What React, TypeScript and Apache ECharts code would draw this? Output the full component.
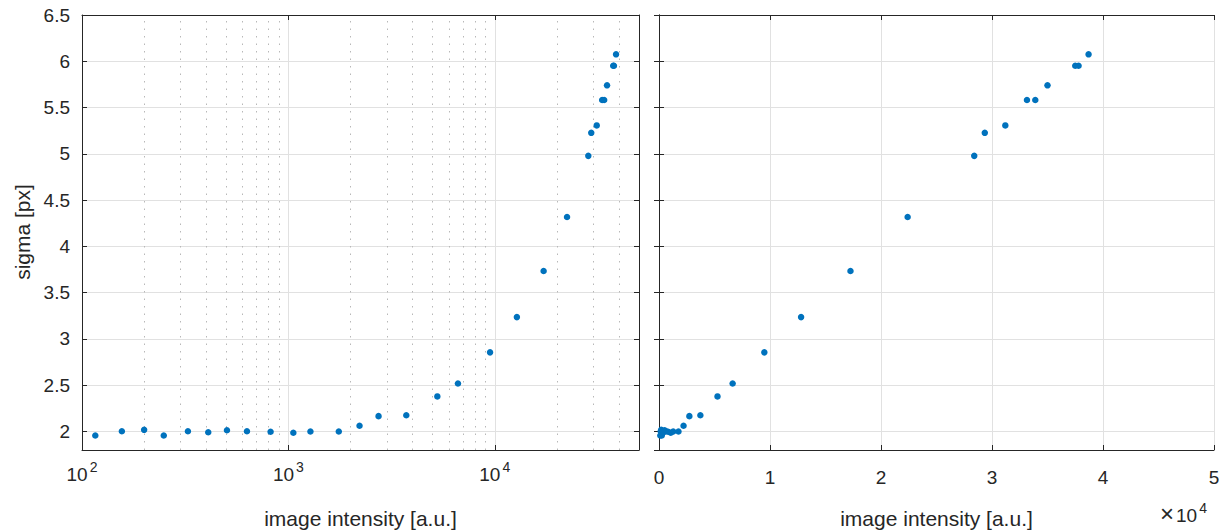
import React, { useEffect, useRef } from "react";
import * as echarts from "echarts";

// image intensity [a.u.]
const intensity: number[] = [
  116, 156, 200, 249, 326, 409, 504, 630, 820, 1057, 1279, 1755, 2212, 2735,
  3727, 5270, 6633, 9490, 12800, 17250, 22400, 28400, 29350, 31200, 33150,
  33900, 35000, 37500, 37800, 38700,
];
// sigma [px]
const sigma: number[] = [
  1.957, 2.003, 2.018, 1.957, 2.003, 1.992, 2.014, 2.003, 1.997, 1.986, 2.0,
  2.0, 2.062, 2.166, 2.176, 2.379, 2.519, 2.855, 3.236, 3.734, 4.318, 4.978,
  5.227, 5.307, 5.581, 5.581, 5.74, 5.952, 5.952, 6.075,
];
const minorLogTicks: number[] = [
  200, 300, 400, 500, 600, 700, 800, 900, 2000, 3000, 4000, 5000, 6000, 7000,
  8000, 9000, 20000, 30000, 40000,
];
const xLabel = "image intensity [a.u.]";
const yLabel = "sigma [px]";

const FONT = '"Liberation Sans", Arial, Helvetica, sans-serif';
const TXT = "#262626";
const GRID = "#e1e1e1";
const DOT = "#0072BD";

export default function App() {
  const ref = useRef<HTMLDivElement>(null);
  useEffect(() => {
    if (!ref.current) return;
    const chart = echarts.init(ref.current, null, { renderer: "svg" });
    const pts = intensity.map((x, i) => [x, sigma[i]]);

    const axisLine = { show: true, lineStyle: { color: TXT, width: 1 } };
    const tick = { show: true, inside: true, length: 5, lineStyle: { color: TXT } };
    const logFmt = (v: number) => {
      const e = Math.log10(v);
      if (Math.abs(e - Math.round(e)) < 1e-6) return `{b|10}{s|${Math.round(e)}}`;
      return "";
    };
    const richLog = {
      b: { fontSize: 19, fontFamily: FONT, color: TXT, verticalAlign: "bottom", lineHeight: 19 },
      s: { fontSize: 14, fontFamily: FONT, color: TXT, verticalAlign: "bottom", lineHeight: 14, padding: [0, 0, 10, 2] },
    };
    const yFmt = (v: number) => {
      const r = Math.round(v * 2) / 2;
      return Math.abs(r - v) < 1e-6 ? String(parseFloat(v.toFixed(2))) : "";
    };
    const grids = [
      { left: 82, top: 15, width: 557, height: 435 },
      { left: 659, top: 15, width: 555, height: 435 },
    ];

    chart.setOption({
      animation: false,
      backgroundColor: "#ffffff",
      grid: grids,
      xAxis: [
        {
          type: "log", logBase: 10, gridIndex: 0, min: 100, max: 50000, position: "bottom",
          axisLine, axisTick: tick,
          axisLabel: { formatter: logFmt, rich: richLog, margin: 15, showMinLabel: true, showMaxLabel: true },
          splitLine: { show: true, lineStyle: { color: GRID, width: 1 } },
          minorTick: { show: false }, minorSplitLine: { show: false },
        },
        {
          type: "value", gridIndex: 1, min: 0, max: 50000, interval: 10000, position: "bottom",
          axisLine, axisTick: tick,
          axisLabel: { formatter: (v: number) => String(v / 10000), fontSize: 19, fontFamily: FONT, color: TXT, margin: 18 },
          splitLine: { show: true, lineStyle: { color: GRID, width: 1 } },
        },
        {
          type: "log", logBase: 10, gridIndex: 0, min: 100, max: 50000, position: "top",
          axisLine, axisTick: tick, axisLabel: { show: false }, splitLine: { show: false },
        },
        {
          type: "value", gridIndex: 1, min: 0, max: 50000, interval: 10000, position: "top",
          axisLine, axisTick: tick, axisLabel: { show: false }, splitLine: { show: false },
        },
      ],
      yAxis: [
        {
          type: "value", gridIndex: 0, min: 1.8, max: 6.5, splitNumber: 10, position: "left",
          axisLine, axisTick: tick,
          axisLabel: { formatter: yFmt, fontSize: 19, fontFamily: FONT, color: TXT, margin: 12 },
          splitLine: { show: true, lineStyle: { color: GRID, width: 1 } },
        },
        {
          type: "value", gridIndex: 1, min: 1.8, max: 6.5, splitNumber: 10, position: "left",
          axisLine, axisTick: tick, axisLabel: { show: false },
          splitLine: { show: true, lineStyle: { color: GRID, width: 1 } },
        },
        {
          type: "value", gridIndex: 0, min: 1.8, max: 6.5, splitNumber: 10, position: "right",
          axisLine, axisTick: tick, axisLabel: { show: false }, splitLine: { show: false },
        },
        {
          type: "value", gridIndex: 1, min: 1.8, max: 6.5, splitNumber: 10, position: "right",
          axisLine, axisTick: tick, axisLabel: { show: false }, splitLine: { show: false },
        },
      ],
      series: [
        {
          type: "scatter", xAxisIndex: 0, yAxisIndex: 0, data: pts,
          symbolSize: 6.5, itemStyle: { color: DOT, opacity: 1 },
          markLine: {
            silent: true, symbol: "none", label: { show: false },
            lineStyle: { color: "#b8b8b8", type: [1.5, 6], width: 1 },
            data: minorLogTicks.map((v) => ({ xAxis: v })),
            z: 0,
          },
          z: 5,
        },
        {
          type: "scatter", xAxisIndex: 1, yAxisIndex: 1, data: pts,
          symbolSize: 6.5, itemStyle: { color: DOT, opacity: 1 }, z: 5,
        },
      ],
      graphic: [
        {
          type: "text", x: 360.5, y: 518,
          style: { text: xLabel, fill: TXT, font: `21px ${FONT}`, align: "center", verticalAlign: "middle" },
        },
        {
          type: "text", x: 936.5, y: 518,
          style: { text: xLabel, fill: TXT, font: `21px ${FONT}`, align: "center", verticalAlign: "middle" },
        },
        {
          type: "text", x: 22, y: 232, rotation: Math.PI / 2,
          style: { text: yLabel, fill: TXT, font: `21px ${FONT}`, align: "center", verticalAlign: "middle" },
        },
        {
          type: "text", x: 1160, y: 514,
          style: {
            text: "{m|×}{b|10}{s|4}",
            rich: {
              m: { fontSize: 24, fontFamily: FONT, fill: TXT, verticalAlign: "bottom", lineHeight: 22, padding: [0, 2, 0, 0] },
              b: { fontSize: 19, fontFamily: FONT, fill: TXT, verticalAlign: "bottom", lineHeight: 19 },
              s: { fontSize: 14, fontFamily: FONT, fill: TXT, verticalAlign: "bottom", lineHeight: 14, padding: [0, 0, 10, 2] },
            },
            align: "left", verticalAlign: "middle",
          },
        },
      ],
    });
    return () => chart.dispose();
  }, []);
  return (
    <div
      ref={ref}
      style={{ position: "absolute", left: 0, top: 0, width: 1231, height: 531 }}
    />
  );
}
